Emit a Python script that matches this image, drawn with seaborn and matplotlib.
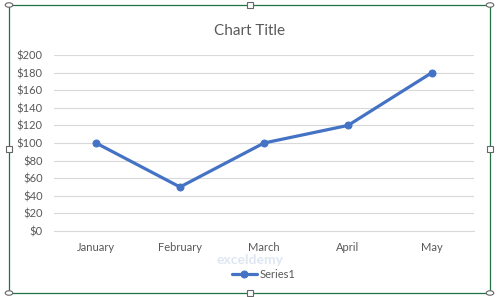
import matplotlib
matplotlib.use("Agg")
import matplotlib.pyplot as plt
import seaborn as sns
import pandas as pd
from matplotlib.patches import Rectangle, Circle
from matplotlib.ticker import FuncFormatter, MultipleLocator

months = ["January", "February", "March", "April", "May"]
values = [100, 50, 100, 120, 180]
series_name = "Series1"

df = pd.DataFrame({"Month": months, "Value": values, "Series": series_name})

sns.set_style("white")
plt.rcParams["font.family"] = ["Lato", "DejaVu Sans"]

fig = plt.figure(figsize=(5.0, 2.97), dpi=100)
ax = fig.add_axes([0.108, 0.2222, 0.84, 0.5926])

line_color = "#4472C4"
sns.lineplot(data=df, x="Month", y="Value", hue="Series", palette=[line_color],
             sort=False, marker="o", markersize=5, linewidth=2.3,
             markeredgecolor=line_color, ax=ax)

ax.set_xlim(-0.5, len(months) - 0.5)
ax.set_ylim(0, 200)
ax.yaxis.set_major_locator(MultipleLocator(20))
ax.yaxis.set_major_formatter(FuncFormatter(lambda v, p: f"${v:.0f}"))
ax.grid(axis="y", color="#D9D9D9", linewidth=0.8)
ax.grid(axis="x", visible=False)
ax.set_axisbelow(True)
for s in ["left", "right", "top"]:
    ax.spines[s].set_visible(False)
ax.spines["bottom"].set_color("#D9D9D9")
ax.spines["bottom"].set_linewidth(0.8)
ax.tick_params(axis="both", length=0, colors="#595959", labelsize=8, pad=8)
ax.tick_params(axis="y", pad=8)
ax.set_xlabel("")
ax.set_ylabel("")

fig.text(0.5, 0.897, "Chart Title", ha="center", va="center", fontsize=11, color="#595959")

leg = ax.legend(loc="center", bbox_to_anchor=(0.5, -0.245), frameon=False,
                fontsize=8, handlelength=2.2, handletextpad=0.3)
for t in leg.get_texts():
    t.set_color("#595959")

# faint watermark
fig.text(0.5, 0.125, "exceldemy", ha="center", va="center", fontsize=10,
         fontweight="bold", color="#C9D6EA", alpha=0.6, zorder=0)

# chart frame (selected chart border) and handles
frame_color = "#217346"
fig.patches.append(Rectangle((9 / 500, 1 - 293 / 297), 481 / 500, 288 / 297,
                             transform=fig.transFigure, fill=False,
                             edgecolor=frame_color, linewidth=0.9, zorder=5))
for (hx, hy) in [(9, 5), (490, 5), (9, 293), (490, 293)]:
    fig.patches.append(Circle((hx / 500, 1 - hy / 297), 0.0075,
                              transform=fig.transFigure, facecolor="white",
                              edgecolor="#666666", linewidth=0.8, zorder=6))
for (hx, hy) in [(250, 5), (250, 293), (9, 149), (490, 149)]:
    fig.patches.append(Rectangle((hx / 500 - 0.006, 1 - hy / 297 - 0.01), 0.012, 0.02,
                                 transform=fig.transFigure, facecolor="white",
                                 edgecolor="#666666", linewidth=0.8, zorder=6))

fig.savefig("out.png", dpi=100, facecolor="white")
